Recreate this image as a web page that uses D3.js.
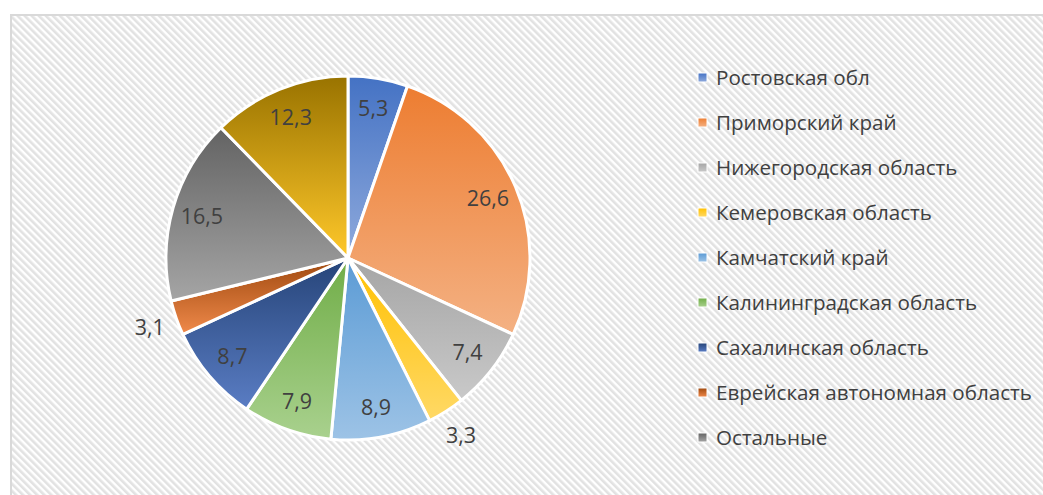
<!DOCTYPE html>
<html>
<head>
<meta charset="utf-8">
<script src="https://cdn.jsdelivr.net/npm/d3@7"></script>
<style>
  body { margin: 0; background: #fff; }
  text { font-family: "Open Sans", sans-serif; fill: #404040; }
</style>
</head>
<body>
<svg id="chart"></svg>
<script>
var width = 1043,
    height = 495;

// regions (the 10th slice has no visible legend entry)
var categories = [
  "Ростовская обл",
  "Приморский край",
  "Нижегородская область",
  "Кемеровская область",
  "Камчатский край",
  "Калининградская область",
  "Сахалинская область",
  "Еврейская автономная область",
  "Остальные",
  ""
];
var values = [5.3, 26.6, 7.4, 3.3, 8.9, 7.9, 8.7, 3.1, 16.5, 12.3];
// gradient colours, top -> bottom
var topColors = ["#4472C4", "#ED7D31", "#A5A5A5", "#FFC000", "#5B9BD5",
                 "#70AD47", "#264478", "#9E480E", "#636363", "#997300"];
var bottomColors = ["#8FAADC", "#F4B183", "#C9C9C9", "#FFD966", "#9DC3E6",
                    "#A9D18E", "#5A7DC4", "#F08A4B", "#A5A5A5", "#FFC82A"];
var legendCount = 9;

var cx = 348, cy = 258, radius = 182;

var svg = d3.select("#chart").attr("width", width).attr("height", height);
var defs = svg.append("defs");

var hatch = defs.append("pattern")
    .attr("id", "hatch")
    .attr("patternUnits", "userSpaceOnUse")
    .attr("width", 5)
    .attr("height", 5)
    .attr("patternTransform", "rotate(-45)");
hatch.append("rect").attr("width", 5).attr("height", 5).attr("fill", "#ffffff");
hatch.append("rect").attr("width", 2.6).attr("height", 5).attr("fill", "#e2e2e2");

values.forEach(function(v, i) {
  var g = defs.append("linearGradient")
      .attr("id", "grad" + i)
      .attr("x1", 0).attr("y1", 0).attr("x2", 0).attr("y2", 1);
  g.append("stop").attr("offset", "0%").attr("stop-color", topColors[i]);
  g.append("stop").attr("offset", "100%").attr("stop-color", bottomColors[i]);
});

// chart frame
svg.append("rect")
    .attr("x", 11).attr("y", 15)
    .attr("width", width + 20).attr("height", height + 20)
    .attr("fill", "url(#hatch)")
    .attr("stroke", "#d9d9d9")
    .attr("stroke-width", 2);

var pie = d3.pie().sort(null).value(function(d) { return d; });
var arcs = pie(values);
var arc = d3.arc().innerRadius(0).outerRadius(radius);
var inLabel = d3.arc().innerRadius(152).outerRadius(152);
var outLabel = d3.arc().innerRadius(210).outerRadius(210);

var fmt = d3.formatLocale({decimal: ",", thousands: " ", grouping: [3], currency: ["", ""]}).format(".1f");

var pieG = svg.append("g").attr("transform", "translate(" + cx + "," + cy + ")");

pieG.selectAll("path")
  .data(arcs)
  .enter()
  .append("path")
    .attr("d", arc)
    .attr("fill", function(d, i) { return "url(#grad" + i + ")"; })
    .attr("stroke", "#ffffff")
    .attr("stroke-width", 3)
    .attr("stroke-linejoin", "round");

pieG.selectAll("text.lbl")
  .data(arcs)
  .enter()
  .append("text")
    .attr("class", "lbl")
    .attr("transform", function(d) {
      var c = (d.data < 4 ? outLabel : inLabel).centroid(d);
      return "translate(" + c[0] + "," + c[1] + ")";
    })
    .attr("text-anchor", "middle")
    .attr("dy", "0.36em")
    .style("font-size", "21.5px")
    .text(function(d) { return fmt(d.data); });

// legend
var legendY = d3.scaleLinear().domain([0, legendCount - 1]).range([78, 438]);
var legend = svg.append("g")
  .selectAll("g")
  .data(categories.slice(0, legendCount))
  .enter()
  .append("g")
    .attr("transform", function(d, i) { return "translate(698," + legendY(i) + ")"; });

legend.append("rect")
    .attr("x", 0).attr("y", -5)
    .attr("width", 9).attr("height", 9)
    .attr("fill", function(d, i) { return "url(#grad" + i + ")"; })
    .attr("stroke", "#ffffff")
    .attr("stroke-width", 1);

legend.append("text")
    .attr("x", 18)
    .attr("dy", "0.36em")
    .style("font-size", "20.6px")
    .text(function(d) { return d; });
</script>
</body>
</html>
